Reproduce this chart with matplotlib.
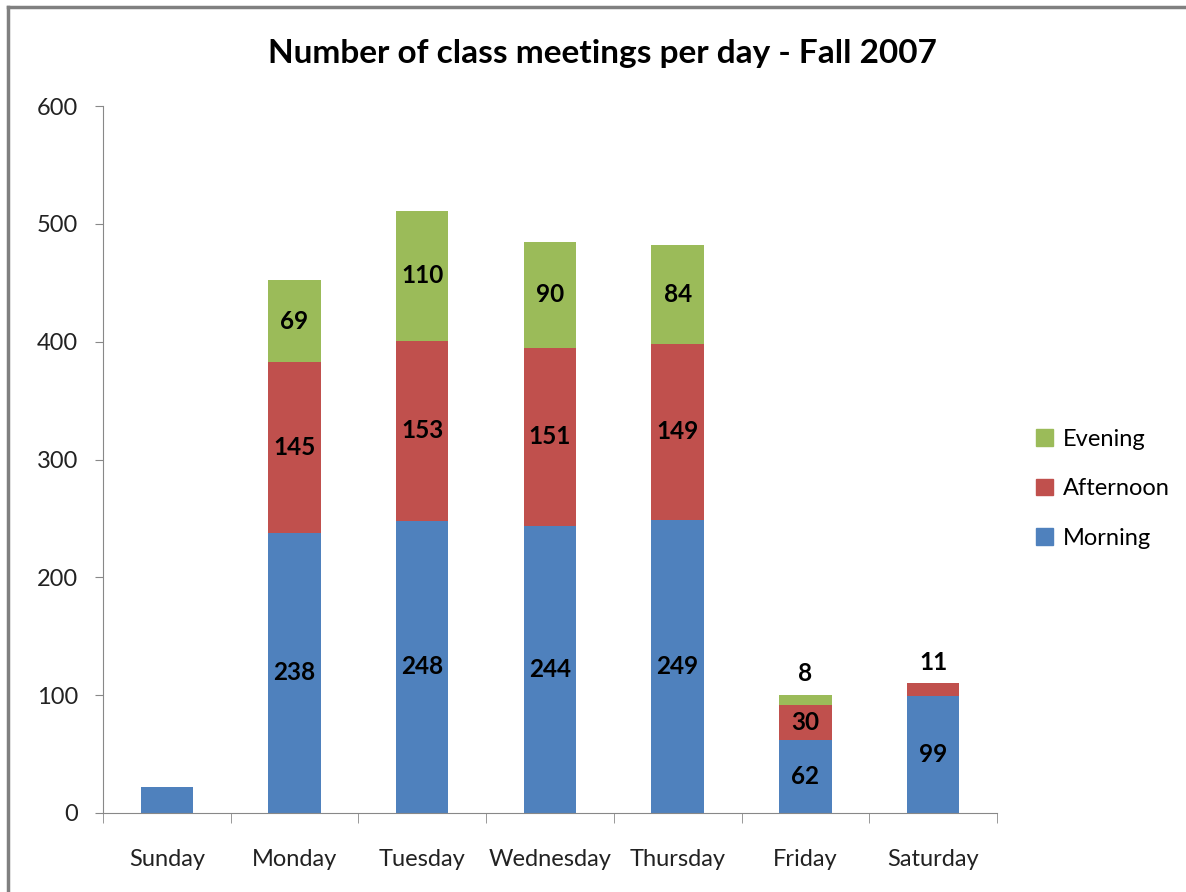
import matplotlib

matplotlib.use("Agg")
import matplotlib.pyplot as plt
from matplotlib.lines import Line2D
from matplotlib.patches import Patch
import numpy as np

plt.rcParams["font.family"] = ["Lato", "DejaVu Sans"]

days = ["Sunday", "Monday", "Tuesday", "Wednesday", "Thursday", "Friday", "Saturday"]
morning = [22, 238, 248, 244, 249, 62, 99]
afternoon = [0, 145, 153, 151, 149, 30, 11]
evening = [0, 69, 110, 90, 84, 8, 0]

# which segments get a label, and where (inside the bar or on top of it)
morning_labels = [None, "238", "248", "244", "249", "62", "99"]
afternoon_labels = [None, "145", "153", "151", "149", "30", None]
evening_labels = [None, "69", "110", "90", "84", None, None]
top_labels = [None, None, None, None, None, "8", "11"]

c_morning = "#4f81bd"
c_afternoon = "#c0504d"
c_evening = "#9bbb59"

fig = plt.figure(figsize=(11.86, 8.92), dpi=100)
ax = fig.add_axes([0.0868, 0.0886, 0.7538, 0.7924])

x = np.arange(len(days))
m = np.array(morning)
a = np.array(afternoon)
e = np.array(evening)
w = 0.41

ax.bar(x, m, w, color=c_morning)
ax.bar(x, a, w, bottom=m, color=c_afternoon)
ax.bar(x, e, w, bottom=m + a, color=c_evening)

lab_kw = dict(ha="center", va="center", fontsize=17.5, fontweight="bold", color="black")
for i in range(len(days)):
    if morning_labels[i]:
        ax.text(x[i], m[i] / 2, morning_labels[i], **lab_kw)
    if afternoon_labels[i]:
        ax.text(x[i], m[i] + a[i] / 2, afternoon_labels[i], **lab_kw)
    if evening_labels[i]:
        ax.text(x[i], m[i] + a[i] + e[i] / 2, evening_labels[i], **lab_kw)
    if top_labels[i]:
        ax.text(x[i], m[i] + a[i] + e[i] + 18, top_labels[i], **lab_kw)

ax.set_xlim(-0.5, len(days) - 0.5)
ax.set_ylim(0, 600)
ax.set_yticks(range(0, 601, 100))
ax.set_xticks(x)
ax.set_xticklabels(days)
ax.set_xticks(np.arange(-0.5, len(days), 1), minor=True)
ax.tick_params(axis="x", which="major", length=0, pad=26, labelsize=17, colors="#222222")
ax.tick_params(axis="x", which="minor", length=7, color="#888888")
ax.tick_params(axis="y", length=6, direction="out", color="#888888", labelsize=17,
               labelcolor="#222222", pad=12)

for s in ["top", "right"]:
    ax.spines[s].set_visible(False)
ax.spines["left"].set_color("#888888")
ax.spines["bottom"].set_color("#888888")

fig.suptitle("Number of class meetings per day - Fall 2007", fontsize=24,
             fontweight="bold", x=0.508, y=0.94, va="center")

handles = [Patch(color=c_evening, label="Evening"),
           Patch(color=c_afternoon, label="Afternoon"),
           Patch(color=c_morning, label="Morning")]
fig.legend(handles=handles, loc="center left", bbox_to_anchor=(0.856, 0.452),
           frameon=False, fontsize=17, handlelength=0.7, handleheight=0.7,
           handletextpad=0.4, labelspacing=1.2)

# chart frame (only top and left edges visible in the crop)
fig.add_artist(Line2D([0.007, 1.0], [0.992, 0.992], transform=fig.transFigure,
                      color="#808080", lw=2.5))
fig.add_artist(Line2D([0.007, 0.007], [0.0, 0.992], transform=fig.transFigure,
                      color="#808080", lw=2.5))

fig.savefig("out.png", dpi=100)
